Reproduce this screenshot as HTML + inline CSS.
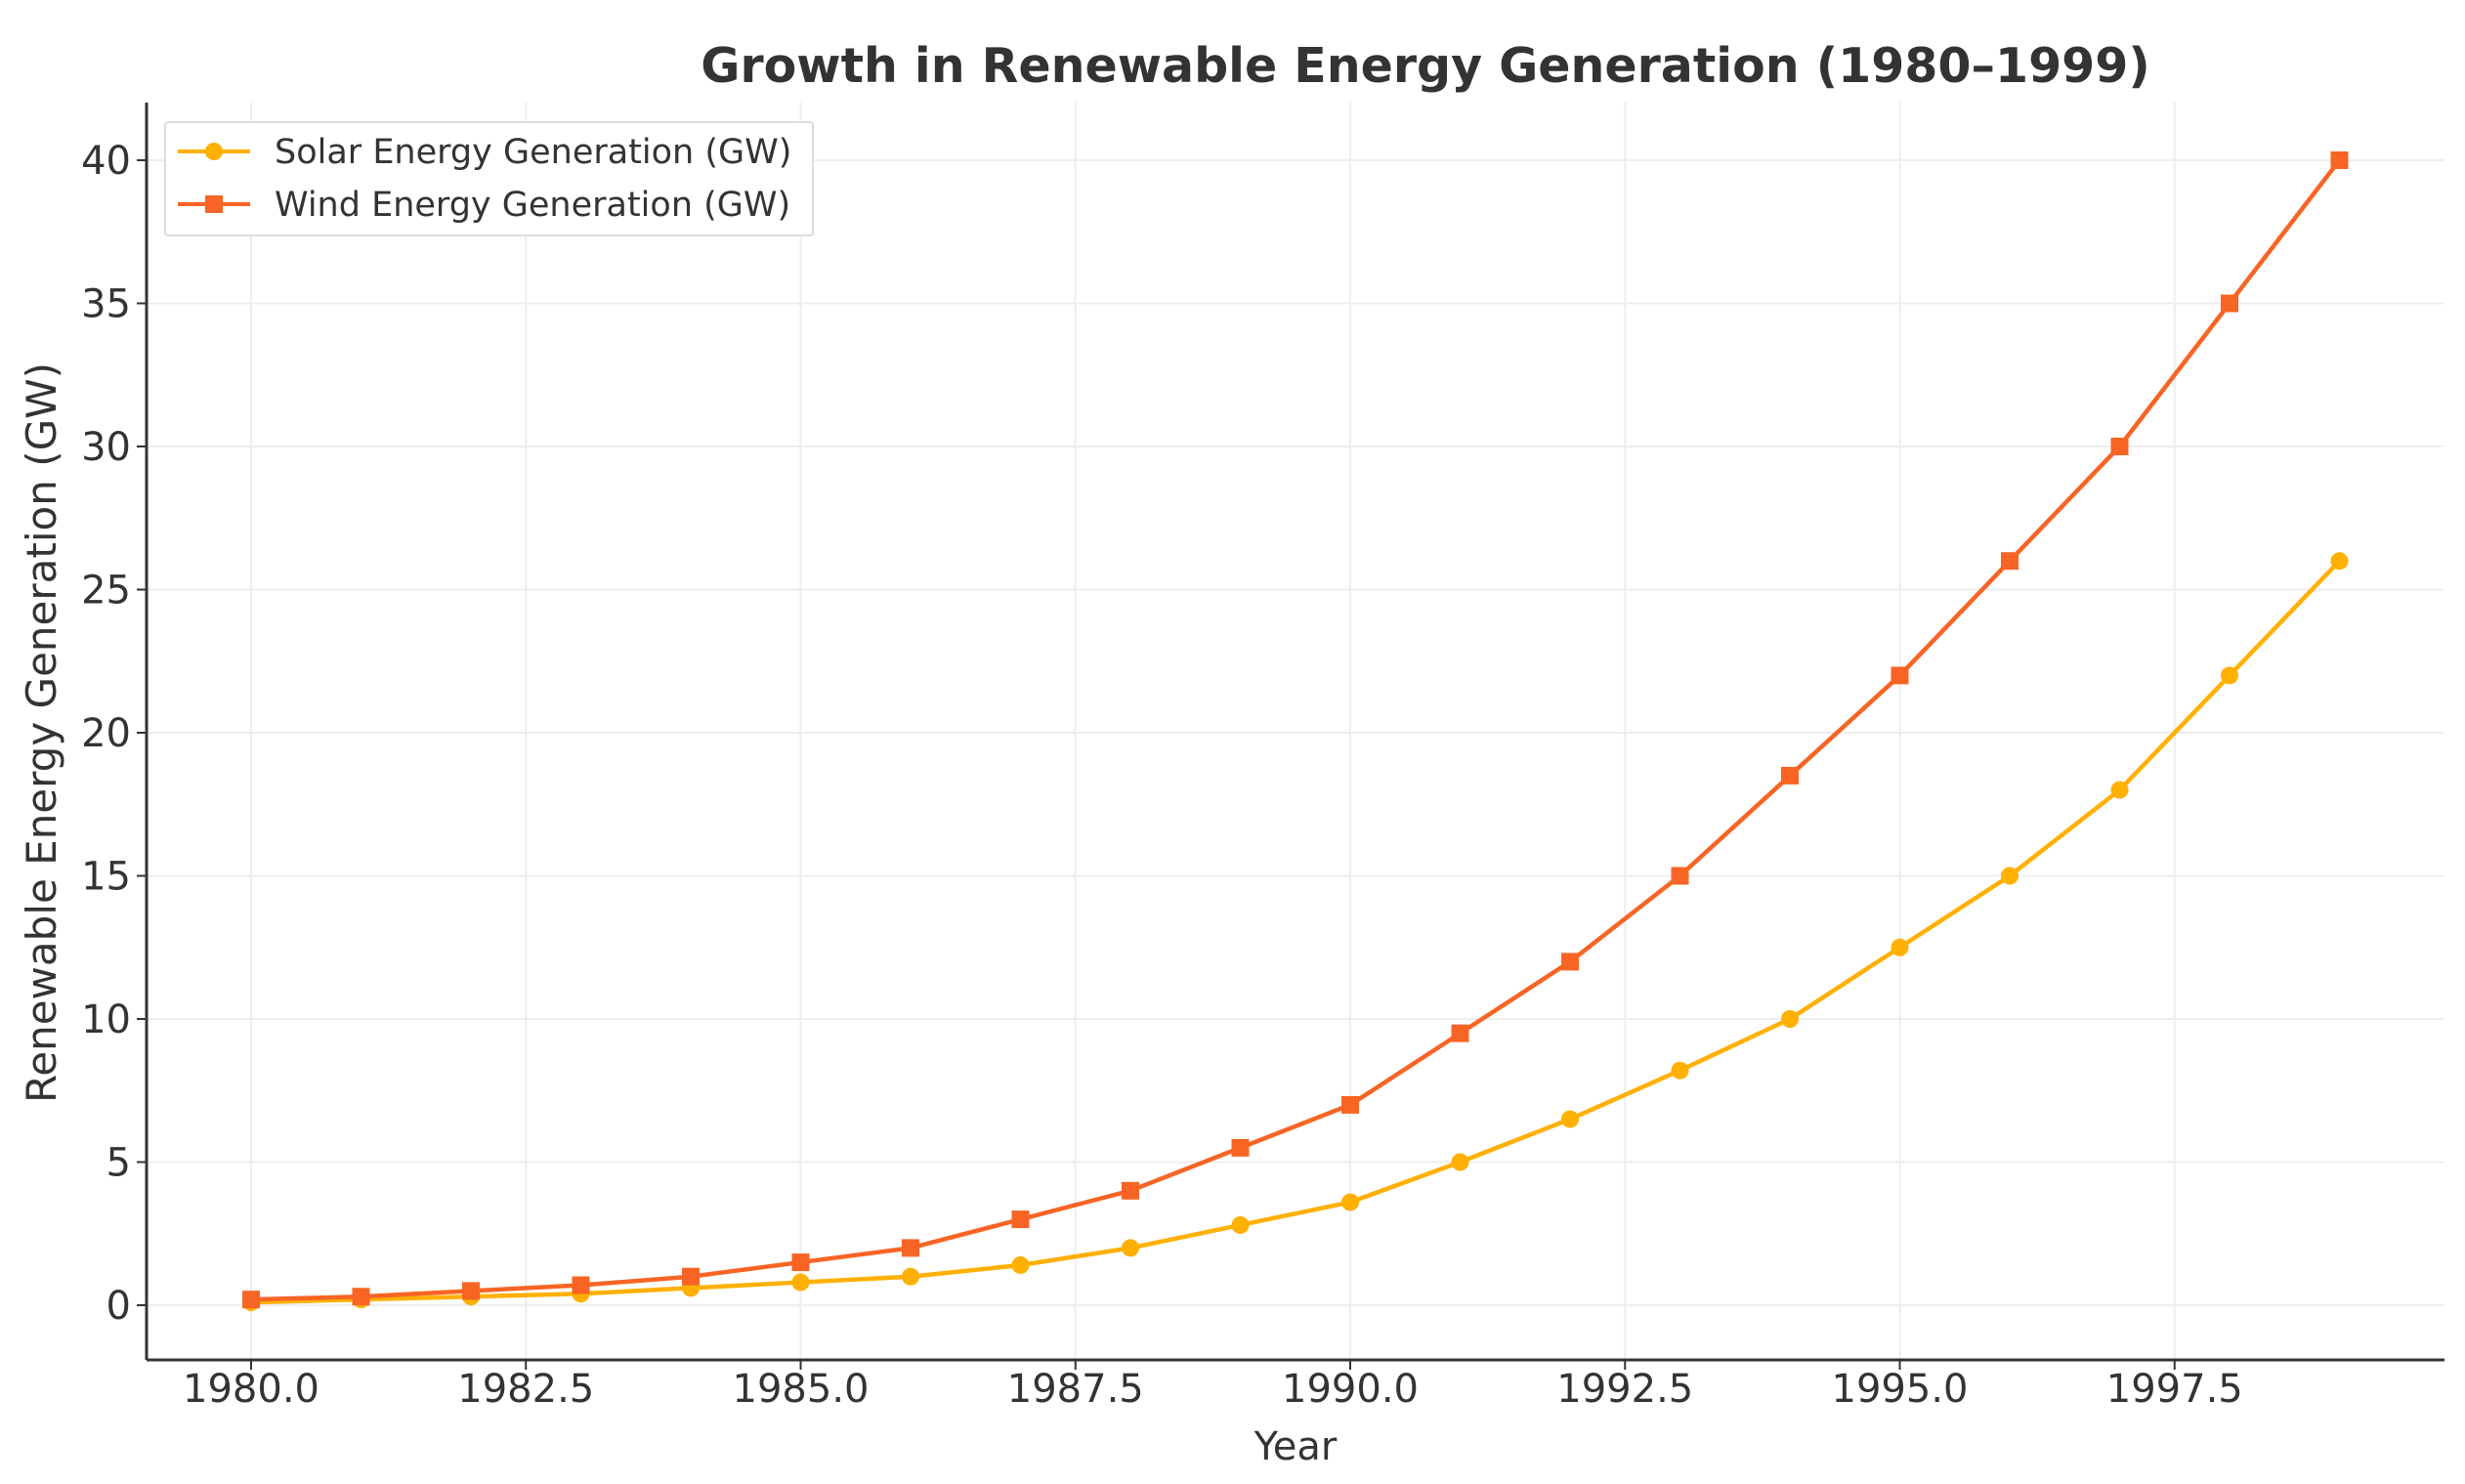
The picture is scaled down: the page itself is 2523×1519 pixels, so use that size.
<!DOCTYPE html>
<html><head><meta charset="utf-8"><style>
body{margin:0;background:#fff;}
svg text{font-family:"DejaVu Sans","Liberation Sans",sans-serif;fill:#333;}
</style></head><body>
<svg id="chart" width="2523" height="1514" xmlns="http://www.w3.org/2000/svg">
<text x="1459" y="84" text-anchor="middle" font-size="49" font-weight="bold">Growth in Renewable Energy Generation (1980–1999)</text>
<g id="grid"></g>
<g id="axes"></g>
<g id="series"></g>
<text x="1326" y="1494" text-anchor="middle" font-size="40">Year</text>
<text transform="translate(57,750) rotate(-90)" text-anchor="middle" font-size="42">Renewable Energy Generation (GW)</text>
<g>
<rect x="169" y="125" width="663" height="116" fill="#fff" stroke="#ddd" stroke-width="2" rx="3"/>
<g>
<line x1="182" y1="155" x2="256" y2="155" stroke="#FFB000" stroke-width="4"/>
<circle cx="219" cy="155" r="9" fill="#FFB000"/>
<text x="281" y="167" font-size="35">Solar Energy Generation (GW)</text></g>
<g>
<line x1="182" y1="209" x2="256" y2="209" stroke="#F86424" stroke-width="4"/>
<rect x="210" y="200" width="18" height="18" fill="#F86424"/>
<text x="281" y="221" font-size="35">Wind Energy Generation (GW)</text></g>
</g>
</svg>
<script>
const years=[1980,1981,1982,1983,1984,1985,1986,1987,1988,1989,1990,1991,1992,1993,1994,1995,1996,1997,1998,1999];
const solar=[0.1,0.2,0.3,0.4,0.6,0.8,1.0,1.4,2.0,2.8,3.6,5.0,6.5,8.2,10,12.5,15,18,22,26];
const wind=[0.2,0.3,0.5,0.7,1.0,1.5,2.0,3.0,4.0,5.5,7.0,9.5,12,15,18.5,22,26,30,35,40];
const xTicks=[1980,1982.5,1985,1987.5,1990,1992.5,1995,1997.5];
const xTickLabels=["1980.0","1982.5","1985.0","1987.5","1990.0","1992.5","1995.0","1997.5"];
const yTicks=[0,5,10,15,20,25,30,35,40];
const NS="http://www.w3.org/2000/svg";
const L=150,R=2502,T=105,B=1392;
function X(v){return 257+(v-1980)*112.5;}
function Y(v){return 1336-v*29.3;}
function mk(t,a,p){const e=document.createElementNS(NS,t);for(const k in a)e.setAttribute(k,a[k]);p.appendChild(e);return e;}
const grid=document.getElementById('grid'),axes=document.getElementById('axes'),ser=document.getElementById('series');
xTicks.forEach((t,i)=>{
  const g=mk('line',{x1:X(t),x2:X(t),y1:T,y2:B,stroke:'#eeeeee','stroke-width':2},grid);
  
  
  const tk=mk('line',{x1:X(t),x2:X(t),y1:B,y2:B+10,stroke:'#333','stroke-width':2},axes);
  
  
  const tx=mk('text',{x:X(t),y:B+43,'text-anchor':'middle','font-size':40},axes);
  tx.textContent=xTickLabels[i];
  
  
});
yTicks.forEach(t=>{
  const g=mk('line',{x1:L,x2:R,y1:Y(t),y2:Y(t),stroke:'#eeeeee','stroke-width':2},grid);
  
  
  const tk=mk('line',{x1:L-10,x2:L,y1:Y(t),y2:Y(t),stroke:'#333','stroke-width':2},axes);
  
  
  const tx=mk('text',{x:L-16,y:Y(t)+14,'text-anchor':'end','font-size':40},axes);
  tx.textContent=String(t);
  
  
});
const ls=mk('line',{x1:L,x2:L,y1:T,y2:B,stroke:'#333','stroke-width':3},axes);


const bs=mk('line',{x1:L,x2:R,y1:B,y2:B,stroke:'#333','stroke-width':3},axes);


function draw(vals,color,shape,name){
  const pts=vals.map((v,i)=>X(years[i])+','+Y(v)).join(' ');
  const pl=mk('polyline',{points:pts,fill:'none',stroke:color,'stroke-width':4.5,'stroke-linejoin':'round'},ser);
  
  
  vals.forEach((v,i)=>{
    let m;
    if(shape==='circle') m=mk('circle',{cx:X(years[i]),cy:Y(v),r:9,fill:color},ser);
    else m=mk('rect',{x:X(years[i])-9,y:Y(v)-9,width:18,height:18,fill:color},ser);
    
    
  });
}
draw(solar,'#FFB000','circle','solar');
draw(wind,'#F86424','square','wind');
</script>
</body></html>
